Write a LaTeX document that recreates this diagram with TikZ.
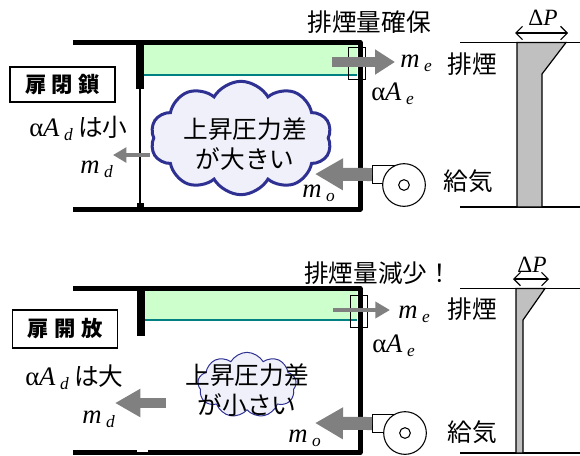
\documentclass[tikz,border=0pt]{standalone}
\usepackage{fontspec}
\usepackage{tikz}
\usetikzlibrary{arrows.meta,shapes.symbols}

\newfontfamily\jp{Noto Sans CJK JP}
\newfontfamily\tms{Liberation Serif}

\definecolor{bandgreen}{RGB}{204,255,204}
\definecolor{bandline}{RGB}{0,128,128}
\definecolor{flowgray}{RGB}{128,128,128}
\definecolor{cloudfill}{RGB}{240,240,250}
\definecolor{cloudline}{RGB}{46,49,146}
\definecolor{presgray}{RGB}{192,192,192}

% m_e, alpha A_d ...
\newcommand{\massflow}[1]{{\tms\itshape m}\hspace{3.5pt}\raisebox{-3.5pt}{\tms\itshape\fontsize{13}{13}\selectfont #1}}
\newcommand{\leakarea}[1]{{\tms α\itshape A}\hspace{3.5pt}\raisebox{-3.5pt}{\tms\itshape\fontsize{13}{13}\selectfont #1}}

\tikzset{
  wall/.style={line width=3.75pt, line join=round},
  door/.style={line width=5.5pt},
  jtext/.style={font=\jp\fontsize{18.5}{22}\selectfont, inner sep=0pt, align=center},
  qtext/.style={font=\tms\fontsize{20}{22}\selectfont, inner sep=0pt, anchor=base west},
  statebox/.style={draw, line width=1.1pt, minimum width=79pt, minimum height=26.5pt,
    inner sep=0pt, font=\jp\bfseries\fontsize{16}{18}\selectfont},
  vent/.style={draw, line width=0.8pt, minimum width=12.5pt, minimum height=24.5pt, inner sep=0pt},
  smoke/.style={cloud, cloud puff arc=120, draw=cloudline, fill=cloudfill, inner sep=0pt},
  bigflow/.style={draw=flowgray, line width=9.75pt, -{Triangle[length=21pt,width=22.5pt]}},
  midflow/.style={draw=flowgray, line width=7.5pt, -{Triangle[length=15pt,width=18pt]}},
  thinflow/.style={draw=flowgray, line width=2.6pt, -{Triangle[length=10pt,width=11pt]}},
  dp/.style={line width=0.8pt, {Straight Barb[length=5pt,width=10pt]}-{Straight Barb[length=5pt,width=10pt]}},
  dplabel/.style={font=\tms\fontsize{17.5}{19}\selectfont, inner sep=0pt},
}

\begin{document}
\begin{tikzpicture}[x=0.75pt, y=-0.75pt]
  \useasboundingbox (0,0) rectangle (580,455);

  %%%% door closed
  \fill[bandgreen] (143,45) rectangle (357,75);
  \draw[bandline, line width=1.2pt] (143,75) -- (357,75);
  \draw[wall] (73,42.5) -- (360,42.5) -- (360,209) -- (73,209);
  \draw[door] (140,42.5) -- (140,89);
  \draw[line width=1pt] (140,89) -- (140,209);
  \fill (136.5,203) rectangle (143.5,211);

  \node[statebox] (stateA) at (62.5,84.5) {扉\hspace{4pt}閉\hspace{4pt}鎖};
  \node[jtext] (titleA) at (369,22) {排煙量確保};
  \node[vent] (ventA) at (357,63.5) {};

  \node[smoke, cloud puffs=10, line width=2.25pt, minimum width=136pt, minimum height=85pt] (cloudA) at (241,138) {};
  \node[jtext] (dpA) at (245,144) {上昇圧力差\\が大きい};

  \node[qtext] (adA) at (29,136) {\leakarea{d}\hspace{4pt}{\jp\fontsize{18.5}{22}\selectfont は小}};
  \node[qtext] (mdA) at (80,173) {\massflow{d}};
  \coordinate (mdTailA) at (150,155);
  \coordinate (mdTipA) at (113,155);
  \draw[thinflow] (mdTailA) -- (mdTipA);

  \node[qtext] (meA) at (400,67) {\massflow{e}};
  \node[jtext] (exA) at (472,64) {排煙};
  \node[qtext] (aeA) at (371,100) {\leakarea{e}};
  \coordinate (meTailA) at (332,62);
  \coordinate (meTipA) at (395,62);
  \draw[midflow] (meTailA) -- (meTipA);

  % supply fan
  \node[draw, fill=white, line width=0.8pt, minimum width=21pt, minimum height=13.5pt, inner sep=0pt, anchor=north west] (fanboxA) at (372,165) {};
  \node[circle, draw, fill=white, line width=0.8pt, minimum size=32pt, inner sep=0pt] (fanA) at (404,185) {};
  \node[circle, draw, line width=0.8pt, minimum size=8pt, inner sep=0pt] at (fanA) {};
  \coordinate (moTipA) at (315,174);
  \draw[bigflow] (fanboxA.west) -- (moTipA);
  \node[qtext] (moA) at (302,197) {\massflow{o}};
  \node[jtext] (saA) at (468,181) {給気};

  % pressure profile
  \draw[line width=0.8pt] (460,42.5) -- (580,42.5);
  \draw[line width=0.8pt] (460,207) -- (580,207);
  \draw[fill=presgray, line width=0.9pt] (517,42.5) -- (566,42.5) -- (542,74) -- (542,207) -- (517,207) -- cycle;
  \coordinate (dpLA) at (515,33);
  \coordinate (dpRA) at (568,33);
  \draw[dp] (dpLA) -- (dpRA);
  \node[dplabel] (dplA) at (543,18) {Δ\textit{P}};

  %%%% door open
  \fill[bandgreen] (145,291) rectangle (357,320);
  \draw[bandline, line width=1.2pt] (145,320) -- (357,320);
  \draw[wall] (73,288.5) -- (360,288.5) -- (360,452.5) -- (73,452.5);
  \draw[door] (141,288.5) -- (141,336);
  \fill[white] (137,448) rectangle (148,451.5);

  \node[statebox, minimum height=28.5pt] (stateB) at (65,329) {扉\hspace{4pt}開\hspace{4pt}放};
  \node[jtext] (titleB) at (378,273) {排煙量減少！};
  \node[vent] (ventB) at (359,311.5) {};

  \node[smoke, cloud puffs=9, line width=0.75pt, minimum width=74pt, minimum height=49pt] (cloudB) at (247,385) {};
  \node[jtext, font=\jp\fontsize{18.5}{22.5}\selectfont] (dpB) at (247,390) {上昇圧力差\\が小さい};

  \node[qtext] (adB) at (25,385) {\leakarea{d}\hspace{4pt}{\jp\fontsize{18.5}{22}\selectfont は大}};
  \node[qtext] (mdB) at (82,423) {\massflow{d}};
  \coordinate (mdTailB) at (166,403);
  \coordinate (mdTipB) at (115,403);
  \draw[midflow, -{Triangle[length=19pt,width=20pt]}] (mdTailB) -- (mdTipB);

  \node[qtext] (meB) at (398,318) {\massflow{e}};
  \node[jtext] (exB) at (472,309) {排煙};
  \node[qtext] (aeB) at (372,352) {\leakarea{e}};
  \coordinate (meTailB) at (333,310);
  \coordinate (meTipB) at (390,310);
  \draw[thinflow, line width=3pt, -{Triangle[length=11pt,width=12pt]}] (meTailB) -- (meTipB);

  \node[draw, fill=white, line width=0.8pt, minimum width=21pt, minimum height=13.5pt, inner sep=0pt, anchor=north west] (fanboxB) at (372,414) {};
  \node[circle, draw, fill=white, line width=0.8pt, minimum size=32pt, inner sep=0pt] (fanB) at (405,433) {};
  \node[circle, draw, line width=0.8pt, minimum size=8pt, inner sep=0pt] at (fanB) {};
  \coordinate (moTipB) at (315,423);
  \draw[bigflow] (fanboxB.west) -- (moTipB);
  \node[qtext] (moB) at (288,442) {\massflow{o}};
  \node[jtext] (saB) at (472,432) {給気};

  \draw[line width=0.8pt] (460,288.5) -- (580,288.5);
  \draw[line width=0.8pt] (460,453) -- (580,453);
  \draw[fill=presgray, line width=0.9pt] (516,288.5) -- (545,288.5) -- (523,320) -- (523,453) -- (516,453) -- cycle;
  \coordinate (dpLB) at (513,279);
  \coordinate (dpRB) at (549,279);
  \draw[dp] (dpLB) -- (dpRB);
  \node[dplabel] (dplB) at (532,265) {Δ\textit{P}};
\end{tikzpicture}
\end{document}
